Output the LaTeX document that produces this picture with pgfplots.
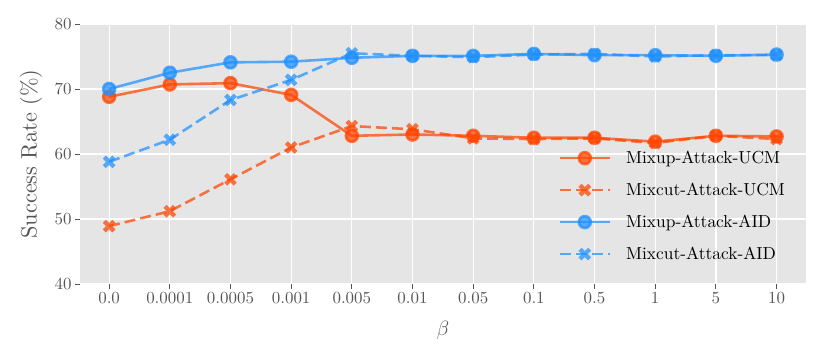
\documentclass[border=0pt]{standalone}
\usepackage{fontspec}
\setmainfont{lmroman10-regular.otf}
\usepackage{pgfplots}
\pgfplotsset{compat=1.18}

\definecolor{bgc}{HTML}{E5E5E5}
\definecolor{ucm}{HTML}{FF4500}
\definecolor{aid}{HTML}{1E90FF}
\definecolor{tickc}{HTML}{555555}

% filled "X" marker, like matplotlib's
\pgfdeclareplotmark{X}{%
  \pgfpathmoveto{\pgfpoint{-0.481\pgfplotmarksize}{0.933\pgfplotmarksize}}%
  \pgfpathlineto{\pgfpoint{0pt}{0.4525\pgfplotmarksize}}%
  \pgfpathlineto{\pgfpoint{0.481\pgfplotmarksize}{0.933\pgfplotmarksize}}%
  \pgfpathlineto{\pgfpoint{0.933\pgfplotmarksize}{0.481\pgfplotmarksize}}%
  \pgfpathlineto{\pgfpoint{0.4525\pgfplotmarksize}{0pt}}%
  \pgfpathlineto{\pgfpoint{0.933\pgfplotmarksize}{-0.481\pgfplotmarksize}}%
  \pgfpathlineto{\pgfpoint{0.481\pgfplotmarksize}{-0.933\pgfplotmarksize}}%
  \pgfpathlineto{\pgfpoint{0pt}{-0.4525\pgfplotmarksize}}%
  \pgfpathlineto{\pgfpoint{-0.481\pgfplotmarksize}{-0.933\pgfplotmarksize}}%
  \pgfpathlineto{\pgfpoint{-0.933\pgfplotmarksize}{-0.481\pgfplotmarksize}}%
  \pgfpathlineto{\pgfpoint{-0.4525\pgfplotmarksize}{0pt}}%
  \pgfpathlineto{\pgfpoint{-0.933\pgfplotmarksize}{0.481\pgfplotmarksize}}%
  \pgfpathclose
  \pgfusepathqfill
}

% beta index: 0.0 0.0001 0.0005 0.001 0.005 0.01 0.05 0.1 0.5 1 5 10
\pgfplotstableread{
x  mixupucm mixcutucm mixupaid mixcutaid
0  68.8     48.9      70.0     58.8
1  70.7     51.2      72.5     62.2
2  70.9     56.1      74.1     68.3
3  69.1     61.0      74.2     71.4
4  62.8     64.3      74.8     75.5
5  63.0     63.8      75.1     75.1
6  62.8     62.4      75.1     74.9
7  62.5     62.3      75.4     75.3
8  62.5     62.4      75.2     75.4
9  61.9     61.7      75.2     75.0
10 62.8     62.8      75.1     75.2
11 62.7     62.3      75.3     75.2
}\datatable

\begin{document}
\begin{tikzpicture}
\begin{axis}[
  scale only axis,
  width=725.7bp, height=260bp,
  xmin=-0.48, xmax=11.48,
  ymin=40, ymax=80,
  axis background/.style={fill=bgc},
  axis line style={draw=none},
  grid=major,
  major grid style={white, line width=1.2bp},
  xtick={0,...,11},
  xticklabels={0.0,0.0001,0.0005,0.001,0.005,0.01,0.05,0.1,0.5,1,5,10},
  ytick={40,50,...,80},
  /pgf/number format/assume math mode=true,
  tick align=outside, tick pos=left,
  major tick length=5bp,
  tick style={tickc, line width=0.9bp},
  ticklabel style={font=\fontsize{17}{20}\selectfont, text=tickc},
  xlabel={$\beta$},
  ylabel={Success Rate (\%)},
  every axis x label/.style={at={(axis description cs:0.5,-0.177)}, anchor=center,
    font=\fontsize{22}{26}\selectfont, text=tickc},
  every axis y label/.style={at={(axis description cs:-0.0675,0.5)}, rotate=90, anchor=center,
    font=\fontsize{22.4}{26}\selectfont, text=tickc},
  legend style={draw=none, fill=none, at={(0.655,0.527)}, anchor=north west,
    font=\fontsize{17.5}{21}\selectfont, row sep=14bp, column sep=13bp},
  legend cell align=left,
  legend image code/.code={%
    \draw[mark repeat=2, mark phase=2] plot coordinates {(0bp,0bp) (25bp,0bp) (50bp,0bp)};},
  every axis plot/.append style={line width=2.6bp, opacity=0.72, mark options={solid}},
]
\addplot[ucm, mark=*, mark size=6bp] table[x=x, y=mixupucm] {\datatable};
\addlegendentry{Mixup-Attack-UCM}
\addplot[ucm, dash pattern=on 11bp off 5bp, mark=X, mark size=6.8bp] table[x=x, y=mixcutucm] {\datatable};
\addlegendentry{Mixcut-Attack-UCM}
\addplot[aid, mark=*, mark size=6bp] table[x=x, y=mixupaid] {\datatable};
\addlegendentry{Mixup-Attack-AID}
\addplot[aid, dash pattern=on 11bp off 5bp, mark=X, mark size=6.8bp] table[x=x, y=mixcutaid] {\datatable};
\addlegendentry{Mixcut-Attack-AID}
\end{axis}
\pgfresetboundingbox
\path[use as bounding box] ([shift={(-80bp,-74bp)}]current axis.south west)
  rectangle ([shift={(24.3bp,24bp)}]current axis.north east);
\end{tikzpicture}
\end{document}
